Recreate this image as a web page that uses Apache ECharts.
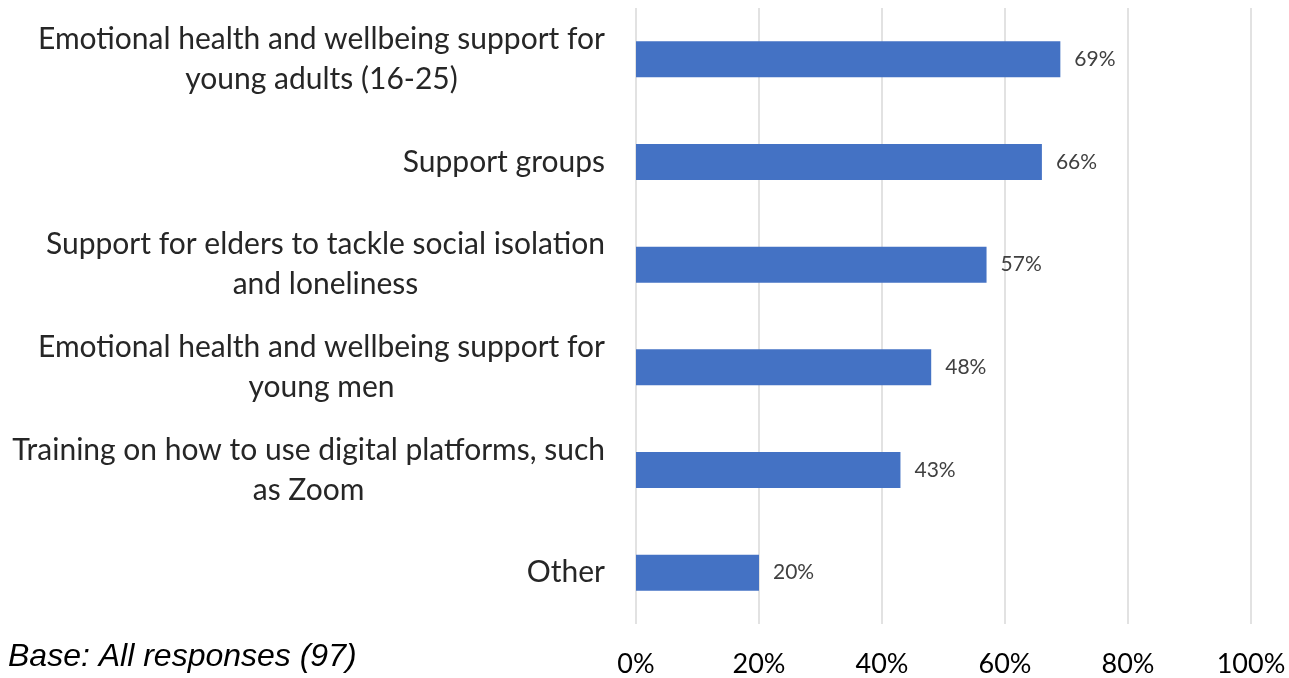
<!DOCTYPE html>
<html>
<head>
<meta charset="utf-8">
<script src="https://cdn.jsdelivr.net/npm/echarts@6/dist/echarts.min.js"></script>
<style>
  html, body { margin: 0; padding: 0; background: #ffffff; }
  #chart { width: 1289px; height: 678px; }
</style>
</head>
<body>
<div id="chart"></div>
<script>
// Support types, top to bottom
const categories = [
  'Emotional health and wellbeing support for\nyoung adults (16-25)',
  'Support groups',
  'Support for elders to tackle social isolation\nand loneliness',
  'Emotional health and wellbeing support for\nyoung men',
  'Training on how to use digital platforms, such\nas Zoom',
  'Other'
];
// Share of responses, percent
const values = [69, 66, 57, 48, 43, 20];
// Axis ticks, percent
const xTicks = [0, 20, 40, 60, 80, 100];
const baseNote = 'Base: All responses (97)';

const chart = echarts.init(document.getElementById('chart'), null, { renderer: 'canvas' });

// Each line of a category label is centred within its block; the block is right-aligned to the axis
function categoryLabel(text) {
  return text.split('\n').map(function (line) { return '{c|' + line + '}'; }).join('\n');
}

chart.setOption({
  animation: false,
  backgroundColor: '#ffffff',
  graphic: [{
    type: 'text',
    left: 8,
    top: 641,
    style: {
      text: baseNote,
      font: 'italic 32px "Liberation Sans", Arial, sans-serif',
      fill: '#000000'
    }
  }],
  grid: { left: 636, right: 38, top: 8, bottom: 54, containLabel: false },
  xAxis: {
    type: 'value',
    min: xTicks[0],
    max: xTicks[xTicks.length - 1],
    interval: xTicks[1] - xTicks[0],
    axisLine: { show: false },
    axisTick: { show: false },
    splitLine: { show: true, lineStyle: { color: '#d9d9d9', width: 1.5 } },
    axisLabel: {
      formatter: '{value}%',
      fontFamily: 'Lato, "Open Sans", sans-serif',
      fontSize: 27,
      color: '#000000',
      margin: 27
    }
  },
  yAxis: {
    type: 'category',
    inverse: true,
    data: categories,
    axisLine: { show: false },
    axisTick: { show: false },
    splitLine: { show: false },
    axisLabel: {
      formatter: categoryLabel,
      fontFamily: 'Lato, "Open Sans", sans-serif',
      fontSize: 30,
      lineHeight: 40,
      color: '#262626',
      margin: 31,
      align: 'right',
      rich: {
        c: {
          align: 'center',
          fontFamily: 'Lato, "Open Sans", sans-serif',
          fontSize: 30,
          lineHeight: 40,
          color: '#262626'
        }
      }
    }
  },
  series: [{
    type: 'bar',
    data: values,
    barWidth: 36,
    itemStyle: { color: '#4472c4' },
    label: {
      show: true,
      position: 'right',
      distance: 14,
      formatter: '{c}%',
      fontFamily: 'Lato, "Open Sans", sans-serif',
      fontSize: 21,
      color: '#404040'
    }
  }]
});
</script>
</body>
</html>
